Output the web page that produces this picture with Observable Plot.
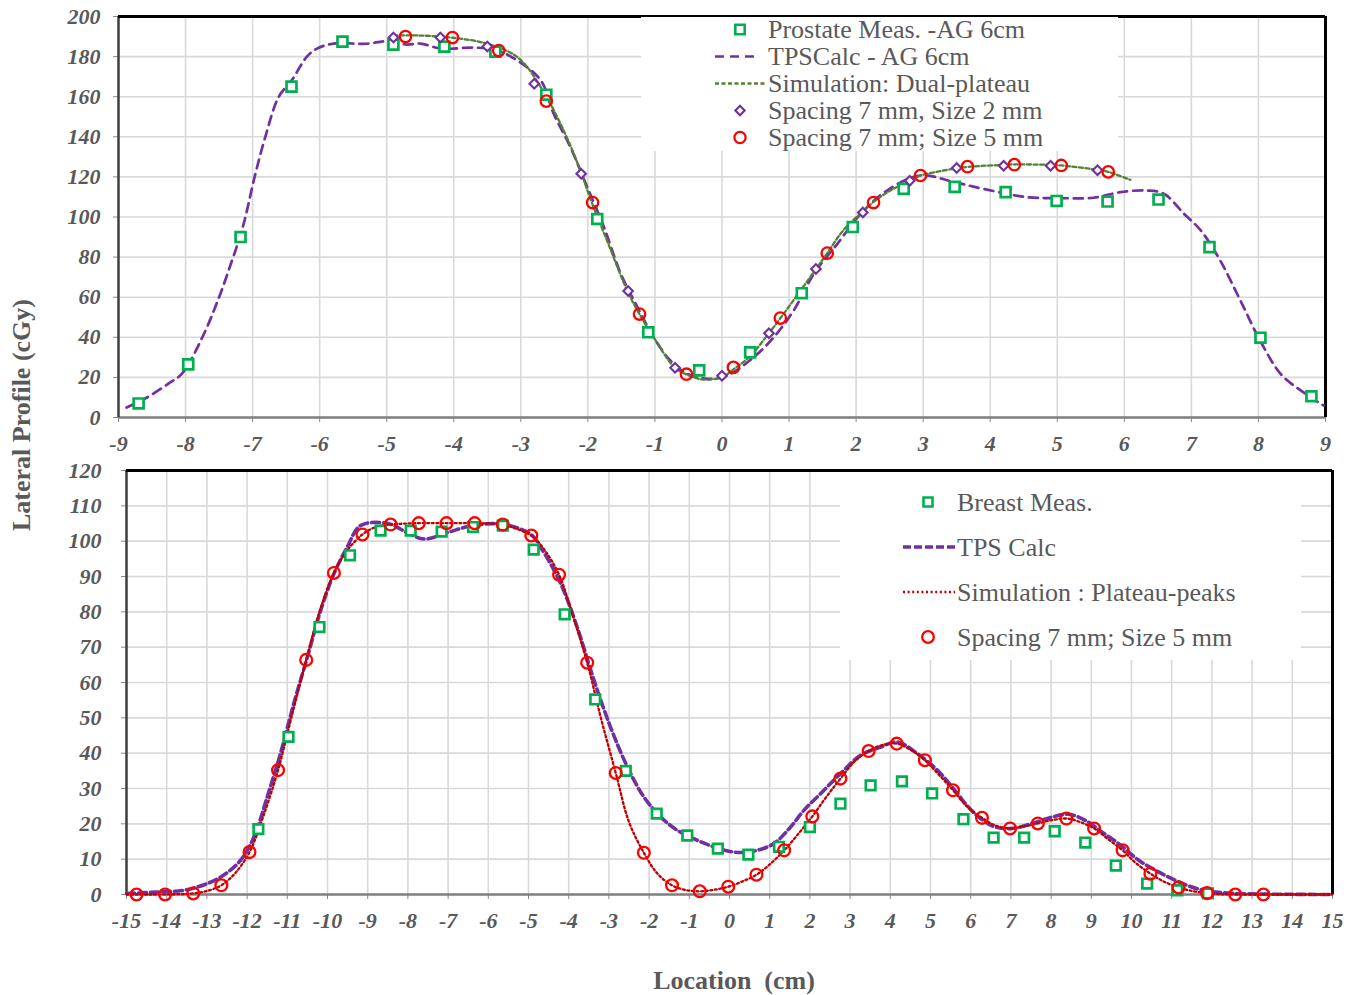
<!DOCTYPE html>
<html><head><meta charset="utf-8">
<script src="https://cdn.jsdelivr.net/npm/d3@7"></script>
<script src="https://cdn.jsdelivr.net/npm/@observablehq/plot@0.6"></script>
<style>
html,body{margin:0;padding:0;background:#fff;}
#wrap{position:relative;width:1358px;height:995px;overflow:hidden;font-family:"Liberation Serif",serif;}
#top,#bot{position:absolute;left:0;}
#top{top:0px}
#bot{top:460px}
#wrap svg{overflow:visible;}
#wrap g[aria-label$="tick label"] text{font-family:"Liberation Serif",serif;font-style:italic;font-weight:bold;font-size:22px;fill:#595959;}
.legend{position:absolute;background:#fff;}
.legend text{font-family:"Liberation Serif",serif;font-size:26px;fill:#595959;}
#ytitle{position:absolute;left:22px;top:415px;transform:translate(-50%,-50%) rotate(-90deg);white-space:pre;font:bold 26px "Liberation Serif",serif;color:#595959;}
#xtitle{position:absolute;left:734px;top:981px;transform:translate(-50%,-50%);white-space:pre;font:bold 26px "Liberation Serif",serif;color:#595959;}
</style>
</head><body>
<div id="wrap">
<div id="top"></div>
<div id="bot"></div>
<div id="ytitle"></div>
<div id="xtitle"></div>
</div>
<script>
// ---------- Top panel (Prostate) ----------
const topXTicks = [-9,-8,-7,-6,-5,-4,-3,-2,-1,0,1,2,3,4,5,6,7,8,9];
const topYTicks = [0,20,40,60,80,100,120,140,160,180,200];

const prostX = [-8.70,-7.96,-7.18,-6.42,-5.66,-4.90,-4.14,-3.38,-2.62,-1.86,-1.10,-0.34,0.42,1.19,1.95,2.71,3.47,4.23,4.99,5.75,6.51,7.27,8.03,8.79];
const prostY = [7,26.5,90,165,187.5,186,185,182.5,161,99,42.5,23.5,32.5,62,95,114,115,112.4,108,107.7,108.7,85,39.8,10.6];

const tpsTopX = [-8.88,-8.6,-8.25,-8.05,-7.75,-7.5,-7.3,-7.18,-7.1,-6.97,-6.81,-6.61,-6.42,-6.19,-6.04,-5.79,-5.3,-5.0,-4.7,-4.5,-4.2,-4.0,-3.7,-3.35,-3.05,-2.7,-2.51,-2.26,-2.01,-1.76,-1.51,-1.26,-1.02,-0.77,-0.52,-0.22,0.08,0.47,0.77,1.07,1.37,1.72,2.07,2.46,2.96,3.46,3.9,4.55,5.05,5.54,5.94,6.34,6.59,6.89,7.14,7.43,7.73,8.03,8.33,8.63,8.97];
const tpsTopY = [5,9.5,17,22,40,60,79,91,101,120,140,160,168,180,184,186.5,186.4,187.7,186,186.5,184,184,184.5,183,178,168,151.5,134.8,114.9,94.9,71.7,55,40,28.4,21.8,19.3,21,30,40,53.4,71.7,86.6,101.6,113.2,120.7,117.4,114,109.9,109.4,109.6,112.4,113.2,111.6,101.6,93.3,78.3,58.4,38,21.8,13.5,6];

const simTopX = [-4.9,-4.5,-4.05,-3.5,-3.05,-2.7,-2.34,-2.1,-1.94,-1.7,-1.41,-1.23,-1.0,-0.71,-0.53,-0.3,0,0.17,0.4,0.7,0.87,1.1,1.4,1.57,1.8,2.09,2.26,2.5,2.8,2.96,3.2,3.5,3.66,4.2,4.36,4.9,5.06,5.6,5.76,6.09];
const simTopY = [190.5,190.5,189.5,186.4,179.7,164.7,141.6,122,107,87,63,51.5,39,25,21.5,19,20,24,30,42,49.5,60,74,82,93,102.5,107.5,113,118,120.7,122.5,124.3,125,126,126.2,126,125.7,123.5,122.5,118.5];

const dia2X = [-4.9,-4.2,-3.5,-2.8,-2.1,-1.4,-0.7,0,0.7,1.4,2.1,2.8,3.5,4.2,4.9,5.6];
const dia2Y = [189.5,189.5,185,166.5,121.6,63.1,24.8,20.8,42,74.1,102.2,118.1,124.4,125.6,125.6,123.3];

const circTopX = [-4.72,-4.02,-3.33,-2.62,-1.93,-1.23,-0.53,0.17,0.87,1.57,2.26,2.96,3.66,4.36,5.06,5.76];
const circTopY = [190,189.5,183,157.8,107.2,51.6,21.6,25,49.6,82,107.2,120.7,125.1,126.1,125.7,122.5];

const topLegendLabels = ["Prostate Meas. -AG 6cm","TPSCalc - AG 6cm","Simulation: Dual-plateau","Spacing 7 mm, Size 2 mm","Spacing 7 mm; Size 5 mm"];

// ---------- Bottom panel (Breast) ----------
const botXTicks = d3.range(-15, 16, 1);
const botYTicks = [0,10,20,30,40,50,60,70,80,90,100,110,120];

const breastX = [-11.72,-10.97,-10.20,-9.44,-8.68,-7.93,-7.16,-6.38,-5.64,-4.87,-4.10,-3.34,-2.58,-1.81,-1.05,-0.29,0.47,1.23,2.00,2.76,3.51,4.29,5.04,5.82,6.57,7.33,8.09,8.85,9.61,10.39,11.14,11.90];
const breastY = [18.5,44.6,75.7,96,103,103,102.7,104,104.4,97.6,79.3,55.2,35,22.9,16.7,13,11.3,13.5,19.1,25.7,30.9,32,28.6,21.3,16.1,16.1,17.9,14.7,8.2,3.1,1.2,0.3];

const tpsBotX = [-15,-14.23,-13.57,-12.99,-12.58,-12.16,-11.83,-11.5,-11.17,-10.84,-10.5,-10.17,-9.84,-9.51,-9.18,-8.5,-8.0,-7.6,-7.0,-6.4,-5.66,-4.95,-4.70,-4.20,-3.79,-3.37,-2.96,-2.54,-2.13,-1.71,-1.30,-0.89,-0.39,0.11,0.61,1.10,1.52,1.85,2.27,2.76,3.26,3.76,4.17,4.67,5.17,5.67,5.87,6.20,6.61,7.03,7.52,8.02,8.44,8.85,9.26,9.68,10.18,10.67,11.17,11.67,12.17,12.9,14,15];
const tpsBotY = [0.3,0.7,1.2,3.1,5.5,9.7,16.3,27.6,39.9,54,67.2,80.4,90.8,98.3,104.4,105,102.3,100.6,102.5,104.4,104.8,102,98.3,88,75.7,60.6,47.4,36.1,27.6,21.9,18.2,15.8,13.5,12,12.3,14.4,19.1,23.8,28.6,34.2,39.4,41.7,43.2,39.9,35.2,28.6,25.7,21.9,19.1,18.7,20.1,21.9,22.7,21,17.7,14.4,9.7,6.4,3.6,1.5,0.6,0.2,0.05,0];

const simBotX = [-15,-14.4,-13.7,-13.34,-13,-12.64,-12.3,-11.94,-11.6,-11.23,-10.9,-10.53,-10.2,-9.84,-9.5,-9.13,-8.8,-8.43,-7.73,-7.04,-6.34,-5.64,-5.3,-4.93,-4.6,-4.24,-3.9,-3.54,-3.2,-2.83,-2.5,-2.13,-1.8,-1.43,-1.1,-0.74,-0.4,-0.03,0.3,0.67,1.0,1.36,1.7,2.06,2.4,2.76,3.1,3.46,3.8,4.16,4.5,4.86,5.2,5.56,5.9,6.28,6.6,6.98,7.3,7.67,8.0,8.38,8.7,9.07,9.4,9.78,10.1,10.47,10.8,11.17,11.5,11.88,12.2,12.58,13.28,14,15];
const simBotY = [0,0,0.1,0.3,1,2.6,6,12,22,35.2,50,66.4,80,91,97.5,101.9,104,104.7,105.1,105.1,105.1,104.7,103.5,101.6,97.5,90.5,79,65.6,50,34.4,20.5,11.8,6,2.6,1.3,0.9,1.3,2.2,3.6,5.6,8.5,12.5,17,22.1,27.5,32.8,37.5,40.6,42.3,42.7,41,38,34,29.5,25,21.7,19.6,18.7,19.2,20.1,21,21.5,20.6,18.7,15.8,12.5,9,5.9,3.7,2,1,0.4,0.1,0,0,0,0];

const circBotX = [-14.75,-14.04,-13.34,-12.64,-11.94,-11.23,-10.53,-9.84,-9.13,-8.43,-7.73,-7.04,-6.34,-5.64,-4.93,-4.24,-3.54,-2.83,-2.13,-1.43,-0.74,-0.03,0.67,1.36,2.06,2.76,3.46,4.16,4.86,5.56,6.28,6.98,7.67,8.38,9.07,9.78,10.47,11.17,11.88,12.58,13.28];
const circBotY = [0,0,0.3,2.6,12,35.2,66.4,91,101.9,104.7,105.1,105.1,105.1,104.7,101.6,90.5,65.6,34.4,11.8,2.6,0.9,2.2,5.6,12.5,22.1,32.8,40.6,42.7,38,29.5,21.7,18.7,20.1,21.5,18.7,12.5,5.9,2,0.4,0,0];

const botLegendLabels = ["Breast  Meas.","TPS Calc","Simulation : Plateau-peaks","Spacing 7 mm; Size 5 mm"];

const yTitle = "Lateral Profile (cGy)";
const xTitle = "Location  (cm)";

// ---------- helpers ----------
const zip = (xs, ys) => xs.map((x, i) => ({x, y: ys[i]}));
const GREEN = "#00B050", PURPLE = "#7030A0", RED = "#FF0000", OLIVE = "#548235", DRED = "#C00000", GRID = "#d9d9d9";
const fontOpts = {fontSize: 22, fontFamily: "Liberation Serif", fontStyle: "italic", fontWeight: "bold"};

function framed(xd, yd) {
  return [
    Plot.ruleY([yd[0]], {stroke: "#7f7f7f", strokeWidth: 2.5}),
    Plot.ruleX([xd[0]], {stroke: "#404040", strokeWidth: 2.5}),
    Plot.ruleY([yd[1]], {stroke: "#000", strokeWidth: 3}),
    Plot.ruleX([xd[1]], {stroke: "#000", strokeWidth: 3})
  ];
}

// ---------- Top chart ----------
const topXD = [topXTicks[0], topXTicks[topXTicks.length-1]];
const topYD = [topYTicks[0], topYTicks[topYTicks.length-1]];
const topPlot = Plot.plot({
  width: 1358, height: 460,
  marginLeft: 118, marginRight: 33, marginTop: 16, marginBottom: 43,
  x: {domain: topXD, label: null},
  y: {domain: topYD, label: null},
  marks: [
    Plot.gridX(topXTicks, {stroke: GRID, strokeOpacity: 1, strokeWidth: 1.6}),
    Plot.gridY(topYTicks, {stroke: GRID, strokeOpacity: 1, strokeWidth: 1.6}),
    Plot.axisX(topXTicks, {tickSize: 5, tickPadding: 13, stroke: "#888", tickFormat: d => String(d), ...fontOpts}),
    Plot.axisY(topYTicks, {tickSize: 5, tickPadding: 13, stroke: "#888", tickFormat: d => String(d), ...fontOpts}),
    ...framed(topXD, topYD),
    Plot.line(zip(tpsTopX, tpsTopY), {x: "x", y: "y", curve: "catmull-rom", stroke: PURPLE, strokeWidth: 2.7, strokeDasharray: "9,6"}),
    Plot.line(zip(simTopX, simTopY), {x: "x", y: "y", curve: "catmull-rom", stroke: OLIVE, strokeWidth: 2.3, strokeDasharray: "4,2.5"}),
    Plot.dot(zip(prostX, prostY), {x: "x", y: "y", symbol: "square", r: 5.6, stroke: GREEN, strokeWidth: 2.7, fill: "white"}),
    Plot.dot(zip(dia2X, dia2Y), {x: "x", y: "y", symbol: "diamond2", r: 4.3, stroke: PURPLE, strokeWidth: 2.1, fill: "white"}),
    Plot.dot(zip(circTopX, circTopY), {x: "x", y: "y", symbol: "circle", r: 5.7, stroke: RED, strokeWidth: 2.3, fill: "none"})
  ]
});
document.getElementById("top").appendChild(topPlot);

// ---------- Bottom chart ----------
const botXD = [botXTicks[0], botXTicks[botXTicks.length-1]];
const botYD = [botYTicks[0], botYTicks[botYTicks.length-1]];
const botPlot = Plot.plot({
  width: 1358, height: 480,
  marginLeft: 126, marginRight: 26, marginTop: 10, marginBottom: 46,
  x: {domain: botXD, label: null},
  y: {domain: botYD, label: null},
  marks: [
    Plot.gridX(botXTicks, {stroke: GRID, strokeOpacity: 1, strokeWidth: 1.6}),
    Plot.gridY(botYTicks, {stroke: GRID, strokeOpacity: 1, strokeWidth: 1.6}),
    Plot.axisX(botXTicks, {tickSize: 5, tickPadding: 13, stroke: "#888", tickFormat: d => String(d), ...fontOpts}),
    Plot.axisY(botYTicks, {tickSize: 5, tickPadding: 20, stroke: "#888", tickFormat: d => String(d), ...fontOpts}),
    ...framed(botXD, botYD),
    Plot.line(zip(tpsBotX, tpsBotY), {x: "x", y: "y", curve: "catmull-rom", stroke: PURPLE, strokeWidth: 3.6, strokeDasharray: "8,4"}),
    Plot.line(zip(simBotX, simBotY), {x: "x", y: "y", curve: "catmull-rom", stroke: DRED, strokeWidth: 2.3, strokeDasharray: "2,2.6"}),
    Plot.dot(zip(breastX, breastY), {x: "x", y: "y", symbol: "square", r: 5.4, stroke: GREEN, strokeWidth: 2.7, fill: "white"}),
    Plot.dot(zip(circBotX, circBotY), {x: "x", y: "y", symbol: "circle", r: 5.9, stroke: RED, strokeWidth: 2.3, fill: "none"})
  ]
});
document.getElementById("bot").appendChild(botPlot);

// ---------- Legends ----------
const sym = (type, r) => d3.symbol(type, Math.PI * r * r)();
function legend(cfg) {
  const div = d3.select("#wrap").append("div").attr("class", "legend")
    .style("left", cfg.left + "px").style("top", cfg.top + "px")
    .style("width", cfg.w + "px").style("height", cfg.h + "px");
  const svg = div.append("svg").attr("width", cfg.w).attr("height", cfg.h);
  cfg.items.forEach((it, i) => {
    const cy = cfg.y0 + i * cfg.dy;
    const g = svg.append("g");
    if (it.line) {
      g.append("line").attr("x1", it.line[0]).attr("x2", it.line[1]).attr("y1", cy).attr("y2", cy)
        .attr("stroke", it.stroke).attr("stroke-width", it.sw).attr("stroke-dasharray", it.dash);
    }
    if (it.symbol) {
      g.append("path").attr("d", sym(it.symbol, it.r)).attr("transform", `translate(${cfg.mx},${cy})`)
        .attr("stroke", it.stroke).attr("stroke-width", it.sw).attr("fill", it.fill);
    }
    g.append("text").attr("x", cfg.tx).attr("y", cy).attr("dy", "0.33em").text(cfg.labels[i]);
  });
}
legend({
  left: 641, top: 16.5, w: 477, h: 134, y0: 12.5, dy: 27, mx: 99, tx: 127, labels: topLegendLabels,
  items: [
    {symbol: d3.symbolSquare, r: 5.3, stroke: GREEN, sw: 2.6, fill: "white"},
    {line: [74, 116], stroke: PURPLE, sw: 2.7, dash: "9,6"},
    {line: [74, 126], stroke: OLIVE, sw: 2.3, dash: "4,2.5"},
    {symbol: d3.symbolDiamond2, r: 4.2, stroke: PURPLE, sw: 2.1, fill: "white"},
    {symbol: d3.symbolCircle, r: 5.6, stroke: RED, sw: 2.3, fill: "none"}
  ]
});
legend({
  left: 840, top: 472, w: 461, h: 188, y0: 30, dy: 45, mx: 88, tx: 117, labels: botLegendLabels,
  items: [
    {symbol: d3.symbolSquare, r: 5.1, stroke: GREEN, sw: 2.6, fill: "white"},
    {line: [63, 115], stroke: PURPLE, sw: 3.6, dash: "8,3"},
    {line: [63, 115], stroke: DRED, sw: 2.3, dash: "2,2.6"},
    {symbol: d3.symbolCircle, r: 5.8, stroke: RED, sw: 2.3, fill: "none"}
  ]
});

document.getElementById("ytitle").textContent = yTitle;
document.getElementById("xtitle").textContent = xTitle;
</script>
</body></html>
